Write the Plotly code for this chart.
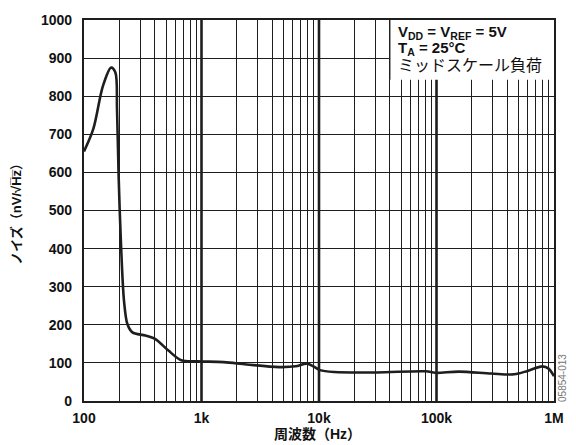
import plotly.graph_objects as go

# Noise spectral density vs frequency (mid-scale code)
freq_hz = [100, 120, 145, 170, 185, 191, 197, 206, 219, 234, 258, 333, 403, 520, 673,
           927, 1545, 2420, 4590, 6310, 7860, 8950, 10200, 13500, 31000, 81000, 98000,
           155000, 293000, 458000, 595000, 795000, 900000, 1000000]
noise_nv = [655, 714, 827, 875, 862, 766, 593, 419, 263, 202, 180, 172, 163, 133, 107,
            104, 102, 96, 89, 91, 98, 91, 81, 76, 75, 78, 74,
            77, 72, 70, 79, 91, 85, 65]

y_ticks = list(range(0, 1001, 100))
x_decades = [100, 1000, 10000, 100000, 1000000]
x_decade_labels = ["100", "1k", "10k", "100k", "1M"]

legend_lines = [
    "<b>V<sub>DD</sub> = V<sub>REF</sub> = 5V</b>",
    "<b>T<sub>A</sub> = 25°C</b>",
    "ミッドスケール負荷",
]
x_title = "<b>周波数（Hz）</b>"
y_title = "<b>ノイズ（nV/√H\u0305z\u0305）</b>"
fig_code = "05854-013"

FONT = "Liberation Sans, Arial, Noto Sans CJK JP"
INK = "#1e1e1e"

# every 1..9 multiple within each decade gets a grid line; only decades get labels
grid_vals, grid_text = [], []
for d in x_decades[:-1]:
    for m in range(1, 10):
        grid_vals.append(d * m)
        grid_text.append(x_decade_labels[x_decades.index(d)] if m == 1 else "")
grid_vals.append(x_decades[-1])
grid_text.append(x_decade_labels[-1])

fig = go.Figure()
fig.add_trace(go.Scatter(
    x=freq_hz, y=noise_nv, mode="lines",
    line=dict(color=INK, width=2.6, shape="spline", smoothing=0.9),
    hoverinfo="skip", showlegend=False,
))

shapes = []
# heavier lines on the inner decades
for d in x_decades[1:-1]:
    shapes.append(dict(type="line", xref="x", yref="paper", x0=d, x1=d, y0=0, y1=1,
                       line=dict(color=INK, width=2.6), layer="below"))
# white panel holding the conditions text (open at the bottom, ruled on the left)
box_x0, box_y0 = 0.6505, 0.843
shapes.append(dict(type="rect", xref="paper", yref="paper",
                   x0=box_x0, x1=1.0, y0=box_y0, y1=1.0,
                   fillcolor="white", line=dict(width=0), layer="above"))
shapes.append(dict(type="line", xref="paper", yref="paper",
                   x0=box_x0, x1=box_x0, y0=box_y0, y1=1.0,
                   line=dict(color=INK, width=1.4), layer="above"))

annotations = []
for text, yp, size in zip(legend_lines, [0.966, 0.925, 0.880], [15, 15, 16]):
    annotations.append(dict(text=text, xref="paper", yref="paper", x=0.663, y=yp,
                            xanchor="left", yanchor="middle", showarrow=False,
                            font=dict(family=FONT, size=size, color="#111")))
annotations.append(dict(text=y_title, xref="paper", yref="paper", x=-0.144, y=0.50,
                        xanchor="center", yanchor="middle", textangle=-90, showarrow=False,
                        font=dict(family=FONT, size=13, color="#111")))
annotations.append(dict(text=x_title, xref="paper", yref="paper", x=0.496, y=-0.086,
                        xanchor="center", yanchor="middle", showarrow=False,
                        font=dict(family=FONT, size=14, color="#111")))
annotations.append(dict(text=fig_code, xref="paper", yref="paper", x=1.0167, y=0.06,
                        xanchor="center", yanchor="middle", textangle=-90, showarrow=False,
                        font=dict(family=FONT, size=10, color="#777")))

fig.update_layout(
    width=576, height=445,
    margin=dict(l=84, r=12, t=17, b=44),
    paper_bgcolor="white", plot_bgcolor="white",
    shapes=shapes, annotations=annotations,
    xaxis=dict(type="log", range=[2, 6], tickvals=grid_vals, ticktext=grid_text,
               showgrid=True, gridcolor=INK, gridwidth=1.3, ticks="",
               showline=True, linecolor=INK, linewidth=2.2, mirror=True,
               ticklabelstandoff=3,
               tickfont=dict(family=FONT, size=14, color="#111", weight="bold"),
               zeroline=False),
    yaxis=dict(range=[0, 1000], tickvals=y_ticks,
               showgrid=True, gridcolor=INK, gridwidth=1.3, ticks="",
               showline=True, linecolor=INK, linewidth=2.2, mirror=True,
               ticklabelstandoff=7,
               tickfont=dict(family=FONT, size=14, color="#111", weight="bold"),
               zeroline=False),
)

fig.write_html("out.html")
